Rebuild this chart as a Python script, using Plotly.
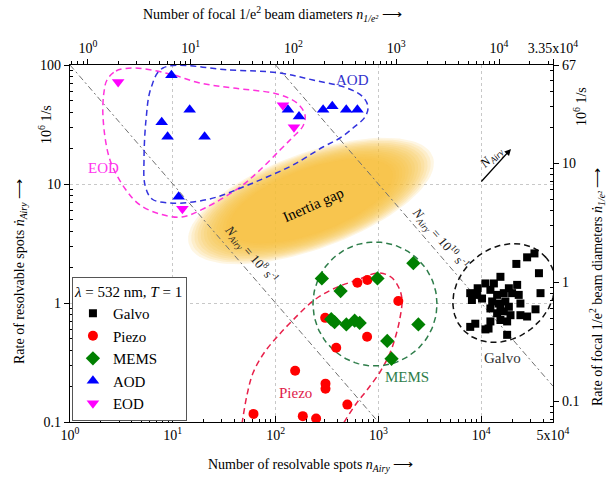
import numpy as np
import plotly.graph_objects as go

# ---------------- data ----------------
galvo_n = [33000, 28000, 22000, 36500, 15400, 11000, 9250, 7830, 12300, 18600,
           22400, 14300, 10200, 8130, 16600, 20000, 23200, 12800, 14800, 17200,
           24100, 37800, 12300, 15400, 18600, 14300, 19300, 24100, 33800, 12300,
           15400, 17900, 11800, 7830, 8770, 11000, 17900, 28000, 9100, 13300, 16600]
galvo_rate = [2.61, 2.42, 2.13, 1.78, 1.66, 1.46, 1.33, 1.21, 1.29, 1.33,
              1.42, 1.17, 1.09, 1.06, 1.21, 1.21, 1.17, 1.03, 0.99, 1.03,
              0.99, 1.21, 0.90, 0.90, 0.93, 0.82, 0.79, 0.79, 0.885, 0.70,
              0.72, 0.70, 0.61, 0.63, 0.67, 0.60, 0.54, 0.77, 1.17, 1.46, 0.85]

piezo_n = [625, 782, 1563, 304, 777, 389, 155, 306, 306, 499, 61, 184, 248]
piezo_rate = [1.48, 1.56, 1.04, 0.75, 0.52, 0.42, 0.27, 0.21, 0.19, 0.14, 0.117, 0.112, 0.107]

mems_n = [2190, 282, 429, 980, 348, 375, 488, 588, 658, 2450, 1220, 1343]
mems_rate = [2.16, 1.61, 1.26, 1.61, 0.73, 0.69, 0.66, 0.71, 0.68, 0.66, 0.48, 0.34]

aod_n = [9.7, 14.6, 7.8, 8.9, 20.4, 11.4, 132, 169, 290, 356, 487, 625]
aod_rate = [82, 42, 33, 25, 25, 7.8, 42, 37, 42, 45, 42, 42]

eod_n = [2.94, 12.4, 118, 151]
eod_rate = [72, 6.2, 46, 30]

# constant N_Airy lines (spots per second, rate axis in 1e6 1/s)
n_airy_lines = [1e8, 1e10]
line_x_ends = [[1, 1000], [100, 5e4]]

bottom_ticks = [1, 10, 100, 1000, 1e4, 5e4]
bottom_text = ["10<sup>0</sup>", "10<sup>1</sup>", "10<sup>2</sup>", "10<sup>3</sup>",
               "10<sup>4</sup>", "5x10<sup>4</sup>"]
top_ticks = [1, 10, 100, 1000, 1e4, 3.35e4]
top_text = ["10<sup>0</sup>", "10<sup>1</sup>", "10<sup>2</sup>", "10<sup>3</sup>",
            "10<sup>4</sup>", "3.35x10<sup>4</sup>"]
left_ticks = [0.1, 1, 10, 100]
left_text = ["0.1", "1", "10", "100"]
right_ticks = [0.1, 1, 10, 67]
right_text = ["0.1", "1", "10", "67"]

# ---------------- layout geometry ----------------
W, H = 606, 478
ML, MR, MT, MB = 70, 53, 65, 56
PW, PH = W - ML - MR, H - MT - MB
XR = [0.0, np.log10(5e4)]
YR = [-1.0, 2.0]
SCALE = 0.67
X2R = [np.log10(SCALE), np.log10(5e4 * SCALE)]
Y2R = [np.log10(0.1 * SCALE), np.log10(100 * SCALE)]

FONT = "Liberation Serif, Times New Roman, serif"


def px2data(px, py):
    px = np.asarray(px, float)
    py = np.asarray(py, float)
    lx = XR[0] + (px - ML) / PW * (XR[1] - XR[0])
    ly = YR[1] - (py - MT) / PH * (YR[1] - YR[0])
    return 10 ** lx, 10 ** ly


def paper(px, py):
    return (px - ML) / PW, (H - MB - py) / PH


def ellipse_px(cx, cy, a, b, ang_deg, n=120):
    t = np.linspace(0, 2 * np.pi, n)
    p = np.radians(ang_deg)
    x = cx + a * np.cos(t) * np.cos(p) - b * np.sin(t) * np.sin(p)
    y = cy - a * np.cos(t) * np.sin(p) - b * np.sin(t) * np.cos(p)
    return px2data(x, y)


def minor_vals(lo, hi):
    vals = []
    for k in range(-3, 6):
        for m in range(2, 10):
            v = m * 10.0 ** k
            if lo < v < hi:
                vals.append(v)
    return vals


fig = go.Figure()

# inertia gap blob (soft edges via stacked translucent ellipses)
for s in np.linspace(1.2, 0.8, 14):
    bx, by = ellipse_px(311, 201, 108 * s, 40 * s, 20)
    fig.add_trace(go.Scatter(x=bx, y=by, mode="lines", fill="toself",
                             fillcolor="rgba(246,190,60,0.14)", line=dict(width=0),
                             hoverinfo="skip", showlegend=False))

# constant N_Airy lines
for N, xe in zip(n_airy_lines, line_x_ends):
    xs = np.array(xe, float)
    fig.add_trace(go.Scatter(x=xs, y=N / 1e6 / xs, mode="lines",
                             line=dict(color="#707070", width=1, dash="6px,3px,2px,3px"),
                             hoverinfo="skip", showlegend=False))

# grouping loops
def add_loop(xs, ys, color, width=1.5):
    fig.add_trace(go.Scatter(x=xs, y=ys, mode="lines",
                             line=dict(color=color, width=width, dash="6px,4px"),
                             hoverinfo="skip", showlegend=False))

def add_spline(pts, color, width=1.5):
    pts = np.array(pts, float)
    xs, ys = px2data(pts[:, 0], pts[:, 1])
    fig.add_trace(go.Scatter(x=xs, y=ys, mode="lines",
                             line=dict(color=color, width=width, dash="6px,4px",
                                       shape="spline", smoothing=1.0),
                             hoverinfo="skip", showlegend=False))

aod_loop = [(163, 68), (230, 70), (280, 73), (313, 80), (347, 88), (363, 97), (368, 107),
            (365, 117), (353, 128), (340, 138), (323, 147), (293, 165), (267, 177),
            (243, 187), (217, 197), (193, 202), (170, 203), (152, 199), (145, 185),
            (144, 160), (146, 120), (151, 88), (163, 68)]
eod_loop = [(107, 80), (116, 71), (135, 68), (170, 74), (200, 83), (233, 88), (277, 94),
            (297, 103), (305, 115), (303, 126), (293, 137), (280, 150), (260, 170),
            (240, 187), (205, 208), (182, 217), (160, 214), (140, 205), (126, 190),
            (110, 160), (103, 117), (104, 92), (107, 80)]
piezo_loop = [(242, 424), (247, 395), (253, 373), (264, 353), (277, 337), (293, 320),
              (313, 301), (333, 289), (357, 280), (378, 273), (391, 277), (399, 288),
              (402, 300), (400, 318), (396, 335), (390, 353), (380, 372), (367, 390),
              (356, 404), (343, 424)]
add_spline(eod_loop, "#FF33DD")
add_spline(aod_loop, "#3333DD")
add_spline(piezo_loop, "#E8204A")
gx, gy = ellipse_px(504, 293, 55, 45, 40)
add_loop(gx, gy, "#111111")
mx, my = ellipse_px(375, 304, 62, 62, 0)
add_loop(mx, my, "#2E7D4A")

# data series
marker_line = dict(width=0)
fig.add_trace(go.Scatter(x=galvo_n, y=galvo_rate, mode="markers", name="Galvo",
                         marker=dict(symbol="square", size=8, color="black", line=marker_line)))
fig.add_trace(go.Scatter(x=piezo_n, y=piezo_rate, mode="markers", name="Piezo",
                         marker=dict(symbol="circle", size=10, color="#FF0000", line=marker_line)))
fig.add_trace(go.Scatter(x=mems_n, y=mems_rate, mode="markers", name="MEMS",
                         marker=dict(symbol="diamond", size=11, color="#008000", line=marker_line)))
fig.add_trace(go.Scatter(x=aod_n, y=aod_rate, mode="markers", name="AOD",
                         marker=dict(symbol="triangle-up", size=11, color="#0000FF", line=marker_line)))
fig.add_trace(go.Scatter(x=eod_n, y=eod_rate, mode="markers", name="EOD",
                         marker=dict(symbol="triangle-down", size=11, color="#FF00FF", line=marker_line)))

# invisible trace to activate secondary axes
fig.add_trace(go.Scatter(x=[1], y=[1], xaxis="x2", yaxis="y2", mode="markers",
                         marker=dict(opacity=0), hoverinfo="skip", showlegend=False))

tickfont = dict(family=FONT, size=14, color="black")
common = dict(type="log", showline=True, linecolor="black", linewidth=1.2,
              tickfont=tickfont, zeroline=False, tickcolor="black", automargin=False)

fig.update_layout(
    width=W, height=H,
    margin=dict(l=ML, r=MR, t=MT, b=MB, autoexpand=False),
    paper_bgcolor="white", plot_bgcolor="white",
    font=dict(family=FONT, size=14, color="black"),
    xaxis=dict(**common, range=XR, tickmode="array", tickvals=bottom_ticks, ticktext=bottom_text,
               ticks="inside", ticklen=6, showgrid=True, gridcolor="#c8c8c8", griddash="dot",
               gridwidth=1,
               minor=dict(tickmode="array", tickvals=minor_vals(1, 5e4), ticks="inside",
                          ticklen=3, tickcolor="black", showgrid=False)),
    yaxis=dict(**common, range=YR, tickmode="array", tickvals=left_ticks, ticktext=left_text,
               ticks="outside", ticklen=5, showgrid=True, gridcolor="#c8c8c8", griddash="dot",
               gridwidth=1,
               minor=dict(tickmode="array", tickvals=minor_vals(0.1, 100), ticks="inside",
                          ticklen=3, tickcolor="black", showgrid=False)),
    xaxis2=dict(**common, range=X2R, overlaying="x", side="top", anchor="y",
                tickmode="array", tickvals=top_ticks, ticktext=top_text,
                ticks="outside", ticklen=5, showgrid=False,
                minor=dict(tickmode="array", tickvals=minor_vals(0.67, 3.35e4), ticks="outside",
                           ticklen=3, tickcolor="black", showgrid=False)),
    yaxis2=dict(**common, range=Y2R, overlaying="y", side="right", anchor="x",
                tickmode="array", tickvals=right_ticks, ticktext=right_text,
                ticks="outside", ticklen=5, showgrid=False,
                minor=dict(tickmode="array", tickvals=minor_vals(0.067, 67), ticks="inside",
                           ticklen=3, tickcolor="black", showgrid=False)),
    legend=dict(x=0.004, y=0.004, xanchor="left", yanchor="bottom",
                bgcolor="white", bordercolor="#555555", borderwidth=1,
                font=dict(family=FONT, size=15, color="black"),
                title=dict(text="<i>λ</i> = 532 nm, <i>T</i> = 1",
                           font=dict(family=FONT, size=15, color="black")),
                tracegroupgap=0, itemwidth=30),
    showlegend=True,
)

annotations = []

def ann(px, py, text, color="black", size=14, angle=0, **kw):
    x, y = paper(px, py)
    annotations.append(dict(x=x, y=y, xref="paper", yref="paper", text=text,
                            xanchor="center", yanchor="middle",
                            showarrow=False, textangle=angle,
                            font=dict(family=FONT, size=size, color=color), **kw))

# axis titles
ann(310, 465, "Number of resolvable spots <i>n</i><sub><i>Airy</i></sub> ⟶")
ann(272, 14, "Number of focal 1/e<sup>2</sup> beam diameters <i>n</i><sub><i>1/e²</i></sub> ⟶")
ann(20, 272, "Rate of resolvable spots <i>ṅ</i><sub><i>Airy</i></sub> ⟶", angle=-90)
ann(45, 125, "10<sup>6</sup> 1/s", angle=-90)
ann(597, 287, "Rate of focal 1/e<sup>2</sup> beam diameters <i>ṅ</i><sub><i>1/e²</i></sub> ⟶", angle=-90)
ann(580, 107, "10<sup>6</sup> 1/s", angle=-90)

# group labels
ann(352, 80, "AOD", color="#3333CC", size=15)
ann(103, 168, "EOD", color="#FF33EE", size=15)
ann(502, 358, "Galvo", color="#333333", size=15)
ann(407, 377, "MEMS", color="#2E7D4A", size=15)
ann(295, 393, "Piezo", color="#E0204A", size=15)
ann(313, 205, "Inertia gap", color="black", size=15, angle=-24)
ann(251, 254, "<i>N</i><sub><i>Airy</i></sub> = 10<sup>8</sup> s<sup>-1</sup>", color="#222222", size=13, angle=49)
ann(440, 238, "<i>N</i><sub><i>Airy</i></sub> = 10<sup>10</sup> s<sup>-1</sup>", color="#222222", size=13, angle=49)
ann(491, 157, "<i>N</i><sub><i>Airy</i></sub>", color="black", size=13, angle=-45)

# N_Airy direction arrow
hx, hy = paper(511, 149)
annotations.append(dict(x=hx, y=hy, xref="paper", yref="paper", ax=-31, ay=34,
                        axref="pixel", ayref="pixel", showarrow=True, arrowhead=2,
                        arrowsize=1, arrowwidth=1.3, arrowcolor="black", text=""))

fig.update_layout(annotations=annotations)

fig.write_html("out.html", config={"displayModeBar": False},
               post_script="document.body.style.margin='0';document.body.style.padding='0';"
                           "document.body.style.overflow='hidden';")
